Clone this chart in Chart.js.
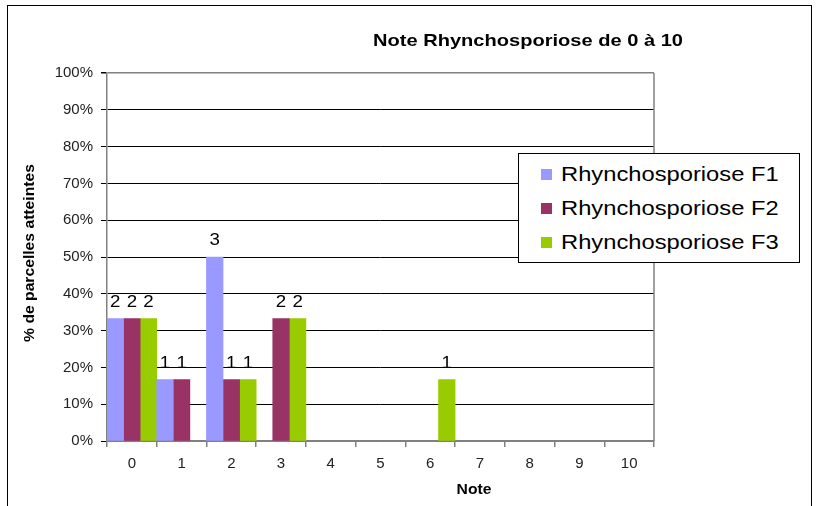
<!DOCTYPE html>
<html>
<head>
<meta charset="utf-8">
<script src="https://cdn.jsdelivr.net/npm/chart.js@4/dist/chart.umd.min.js"></script>
<style>
  html, body { margin: 0; padding: 0; background: #fff; overflow: hidden; }
  #wrap { position: relative; width: 826px; height: 506px; }
  #frame { position: absolute; left: 7px; top: 5px; width: 805px; height: 520px; border: 1px solid #000; box-sizing: border-box; }
  #legend { position: absolute; left: 518px; top: 153px; width: 282px; height: 110px; box-sizing: border-box;
    border: 1px solid #000; background: #fff; font-family: "Liberation Sans", Arial, sans-serif; font-size: 21px; color: #000;
    padding: 3px 0 0 22px; }
  #legend div { height: 34px; line-height: 34px; white-space: nowrap; }
  #legend span.sw { display: inline-block; width: 11px; height: 11px; margin-right: 9px; vertical-align: 1px; }
  #legend span.tx { display: inline-block; transform: scaleX(1.13); transform-origin: left center; }
  canvas { position: absolute; left: 0; top: 0; }
</style>
</head>
<body>
<div id="wrap">
  <div id="frame"></div>
  <canvas id="c" width="826" height="506"></canvas>
  <div id="legend"></div>
</div>
<script>
// notes 0 à 10
const notes = ['0', '1', '2', '3', '4', '5', '6', '7', '8', '9', '10'];
const seriesNames = ['Rhynchosporiose F1', 'Rhynchosporiose F2', 'Rhynchosporiose F3'];
const colors = ['#9999FF', '#993366', '#99CC00'];

// % de parcelles atteintes
const pctF1 = [33.3, 16.7, 50, 0, 0, 0, 0, 0, 0, 0, 0];
const pctF2 = [33.3, 16.7, 16.7, 33.3, 0, 0, 0, 0, 0, 0, 0];
const pctF3 = [33.3, 0, 16.7, 33.3, 0, 0, 16.7, 0, 0, 0, 0];

// nombre de parcelles (étiquettes)
const nbF1 = [2, 1, 3, 0, 0, 0, 0, 0, 0, 0, 0];
const nbF2 = [2, 1, 1, 2, 0, 0, 0, 0, 0, 0, 0];
const nbF3 = [2, 0, 1, 2, 0, 0, 1, 0, 0, 0, 0];

const yTicks = [0, 10, 20, 30, 40, 50, 60, 70, 80, 90, 100];

const FONT = '"Liberation Sans", Arial, sans-serif';
const allPct = [pctF1, pctF2, pctF3];
const allNb = [nbF1, nbF2, nbF3];

// legende html
const legend = document.getElementById('legend');
seriesNames.forEach((name, i) => {
  const row = document.createElement('div');
  row.innerHTML = '<span class="sw" style="background:' + colors[i] + '"></span><span class="tx">' + name + '</span>';
  legend.appendChild(row);
});

// texte un peu etire comme dans excel
function stretchedText(ctx, txt, x, y, sx) {
  ctx.save();
  ctx.translate(x, y);
  ctx.scale(sx, 1);
  ctx.fillText(txt, 0, 0);
  ctx.restore();
}

const extras = {
  id: 'extras',
  afterDatasetsDraw(chart) {
    const ctx = chart.ctx;
    const area = chart.chartArea;
    ctx.save();
    // bordure droite
    ctx.strokeStyle = '#808080';
    ctx.lineWidth = 1.5;
    ctx.beginPath();
    ctx.moveTo(area.right, area.top);
    ctx.lineTo(area.right, area.bottom);
    ctx.stroke();

    // etiquettes des barres
    ctx.fillStyle = '#000';
    ctx.font = '17px ' + FONT;
    ctx.textAlign = 'center';
    ctx.textBaseline = 'bottom';
    chart.data.datasets.forEach((ds, d) => {
      const meta = chart.getDatasetMeta(d);
      meta.data.forEach((bar, i) => {
        const n = allNb[d][i];
        if (!n) return;
        stretchedText(ctx, String(n), bar.x, bar.y - 8, 1.1);
      });
    });

    // titre
    ctx.font = 'bold 17px ' + FONT;
    ctx.textBaseline = 'middle';
    stretchedText(ctx, 'Note Rhynchosporiose de 0 à 10', 528, 41, 1.18);

    // titre axe x
    ctx.font = 'bold 14px ' + FONT;
    stretchedText(ctx, 'Note', 474, 490, 1.12);

    // titre axe y
    ctx.translate(30, 253);
    ctx.rotate(-Math.PI / 2);
    ctx.font = 'bold 14px ' + FONT;
    stretchedText(ctx, '% de parcelles atteintes', 0, 0, 1.12);
    ctx.restore();
  }
};

new Chart(document.getElementById('c'), {
  type: 'bar',
  data: {
    labels: notes,
    datasets: seriesNames.map((name, i) => ({
      label: name,
      data: allPct[i].map(v => (v === 0 ? null : v)),
      backgroundColor: colors[i],
      borderWidth: 0,
      categoryPercentage: 1.0,
      barPercentage: 1.0
    }))
  },
  options: {
    responsive: false,
    animation: false,
    layout: { padding: { left: 0, top: 73, right: 172, bottom: 0 } },
    plugins: {
      legend: { display: false },
      title: { display: false },
      tooltip: { enabled: false }
    },
    scales: {
      x: {
        afterFit(scale) { scale.height = 65; },
        grid: {
          offset: true,
          drawOnChartArea: false,
          drawTicks: true,
          tickLength: 6,
          color: '#808080',
          lineWidth: 1.5
        },
        border: { color: '#808080', width: 1.5 },
        ticks: {
          color: '#222',
          font: { family: FONT, size: 15 },
          padding: 8,
          maxRotation: 0
        }
      },
      y: {
        min: 0,
        max: 100,
        afterFit(scale) { scale.width = 107; },
        afterBuildTicks(scale) { scale.ticks = yTicks.map(v => ({ value: v })); },
        grid: {
          color: ctx => (ctx.tick && (ctx.tick.value === 100 || ctx.tick.value === 0)) ? '#808080' : '#000',
          lineWidth: ctx => (ctx.tick && ctx.tick.value === 100) ? 1.5 : 1,
          drawTicks: true,
          tickLength: 6,
          tickColor: '#000'
        },
        border: { color: '#808080', width: 1.5 },
        ticks: {
          color: '#222',
          font: { family: FONT, size: 15 },
          padding: 8,
          callback: v => v + '%'
        }
      }
    }
  },
  plugins: [extras]
});
</script>
</body>
</html>
